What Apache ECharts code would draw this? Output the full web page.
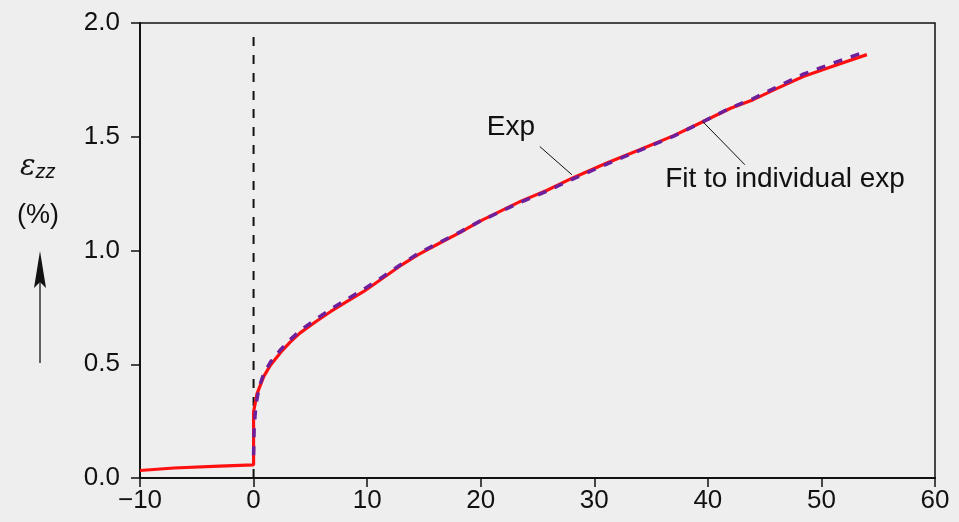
<!DOCTYPE html>
<html>
<head>
<meta charset="utf-8">
<script src="https://cdn.jsdelivr.net/npm/echarts@6/dist/echarts.min.js"></script>
<style>html,body{margin:0;padding:0;background:#eeeeee;}#c{width:959px;height:522px;}</style>
</head>
<body>
<div id="c"></div>
<script>
var xTicks = [-10, 0, 10, 20, 30, 40, 50, 60];
var yTicks = [0.0, 0.5, 1.0, 1.5, 2.0];

var expX = [-10, -7, -3, 0, 0, 0.3, 0.9, 1.5, 2.4, 3.2, 4.1, 5.5, 6.8, 8.2, 9.7, 11.3, 12.9, 14.5, 16.4, 18.2, 19.9, 21.7, 23.5, 25.8, 28.1, 31.1, 34.0, 37.0, 39.6, 42.0, 44.0, 46.2, 48.4, 51.0, 54.0];
var expY = [0.033, 0.044, 0.052, 0.058, 0.29, 0.37, 0.447, 0.497, 0.553, 0.596, 0.638, 0.688, 0.732, 0.775, 0.82, 0.876, 0.932, 0.982, 1.033, 1.08, 1.128, 1.172, 1.216, 1.264, 1.319, 1.385, 1.443, 1.505, 1.567, 1.625, 1.663, 1.715, 1.765, 1.81, 1.861];

var fitX = [0, 0.05, 0.2, 0.5, 0.9, 1.5, 2.4, 3.2, 4.1, 5.5, 6.8, 8.2, 9.7, 11.3, 12.9, 14.5, 16.4, 18.2, 19.9, 21.7, 23.5, 25.8, 28.1, 31.1, 34.0, 37.0, 39.6, 42.0, 44.0, 46.2, 48.4, 51.0, 54.0];
var fitY = [0.10, 0.22, 0.32, 0.40, 0.46, 0.51, 0.565, 0.607, 0.648, 0.698, 0.742, 0.785, 0.83, 0.882, 0.936, 0.987, 1.036, 1.082, 1.128, 1.17, 1.212, 1.26, 1.314, 1.38, 1.44, 1.503, 1.567, 1.627, 1.668, 1.722, 1.775, 1.823, 1.876];

var zeroLine = [[0, 0], [0, 1.96]];
var expLabel = {text: 'Exp', at: [22.66, 1.54], tip: [28.03, 1.333], from: [25.2, 1.457]};
var fitLabel = {text: 'Fit to individual exp', at: [36.2, 1.311], tip: [39.56, 1.566], from: [43.26, 1.377]};

function pairs(xs, ys) { return xs.map(function (x, i) { return [x, ys[i]]; }); }

var chart = echarts.init(document.getElementById('c'));
var font = 'Liberation Sans, Arial, Helvetica, sans-serif';
var fs = 26;
var afs = 28;
chart.setOption({
  backgroundColor: '#eeeeee',
  animation: false,
  grid: {left: 140, right: 24, top: 23, bottom: 44, show: true, borderColor: '#111', borderWidth: 1.5, backgroundColor: 'transparent'},
  xAxis: {
    type: 'value', min: -10, max: 60, interval: 10,
    axisLine: {show: true, onZero: false, lineStyle: {color: '#111', width: 2}},
    axisTick: {show: true, length: 9, lineStyle: {color: '#111', width: 1.5}},
    axisLabel: {color: '#111', fontSize: fs, fontFamily: font, margin: 10,
      formatter: function (v) { return v < 0 ? '\u2212' + Math.abs(v) : String(v); }},
    splitLine: {show: false}
  },
  yAxis: {
    type: 'value', min: 0, max: 2, interval: 0.5,
    axisLine: {show: true, onZero: false, lineStyle: {color: '#111', width: 2}},
    axisTick: {show: true, length: 9, lineStyle: {color: '#111', width: 1.5}},
    axisLabel: {color: '#111', fontSize: fs, fontFamily: font, margin: 20,
      formatter: function (v) { return v.toFixed(1); }},
    splitLine: {show: false}
  },
  series: [
    {
      name: 'zero', type: 'line', data: zeroLine, showSymbol: false, silent: true,
      lineStyle: {color: '#111', width: 2, type: [9, 9]}, z: 2
    },
    {
      name: 'Exp', type: 'line', data: pairs(expX, expY), showSymbol: false, smooth: false,
      lineStyle: {color: '#ff1010', width: 3.2}, z: 3,
      markLine: {
        silent: true, symbol: 'none', animation: false,
        label: {show: false},
        lineStyle: {color: '#111', type: 'solid', width: 1},
        data: [
          [{coord: expLabel.from}, {coord: expLabel.tip}],
          [{coord: fitLabel.from}, {coord: fitLabel.tip}]
        ]
      },
      markPoint: {
        silent: true, symbol: 'rect', symbolSize: 1, itemStyle: {color: 'transparent'},
        data: [
          {coord: expLabel.at, label: {show: true, formatter: expLabel.text, color: '#111', fontSize: afs, fontFamily: font, position: 'inside'}},
          {coord: fitLabel.at, label: {show: true, formatter: fitLabel.text, color: '#111', fontSize: afs, fontFamily: font, position: 'right', distance: 0}}
        ]
      }
    },
    {
      name: 'Fit', type: 'line', data: pairs(fitX, fitY), showSymbol: false,
      lineStyle: {color: '#6e1f9c', width: 3.5, type: [9, 9]}, z: 4
    }
  ],
  graphic: [
    {type: 'text', left: 20, top: 153, style: {rich: {e: {fontFamily: 'DejaVu Serif, serif', fontStyle: 'italic', fontSize: 29, fill: '#111'}, s: {fontFamily: font, fontStyle: 'italic', fontSize: 20, fill: '#111', padding: [9, 0, 0, 0]}}, text: '{e|\u03b5}{s|zz}'}},
    {type: 'text', left: 17, top: 202, style: {text: '(%)', font: '27px ' + font, fill: '#111'}},
    {type: 'line', shape: {x1: 40, y1: 363, x2: 40, y2: 270}, style: {stroke: '#333', lineWidth: 1.5}},
    {type: 'polygon', shape: {points: [[40, 251], [34, 288], [40, 282], [46, 288]]}, style: {fill: '#111'}}
  ]
});
</script>
</body>
</html>
